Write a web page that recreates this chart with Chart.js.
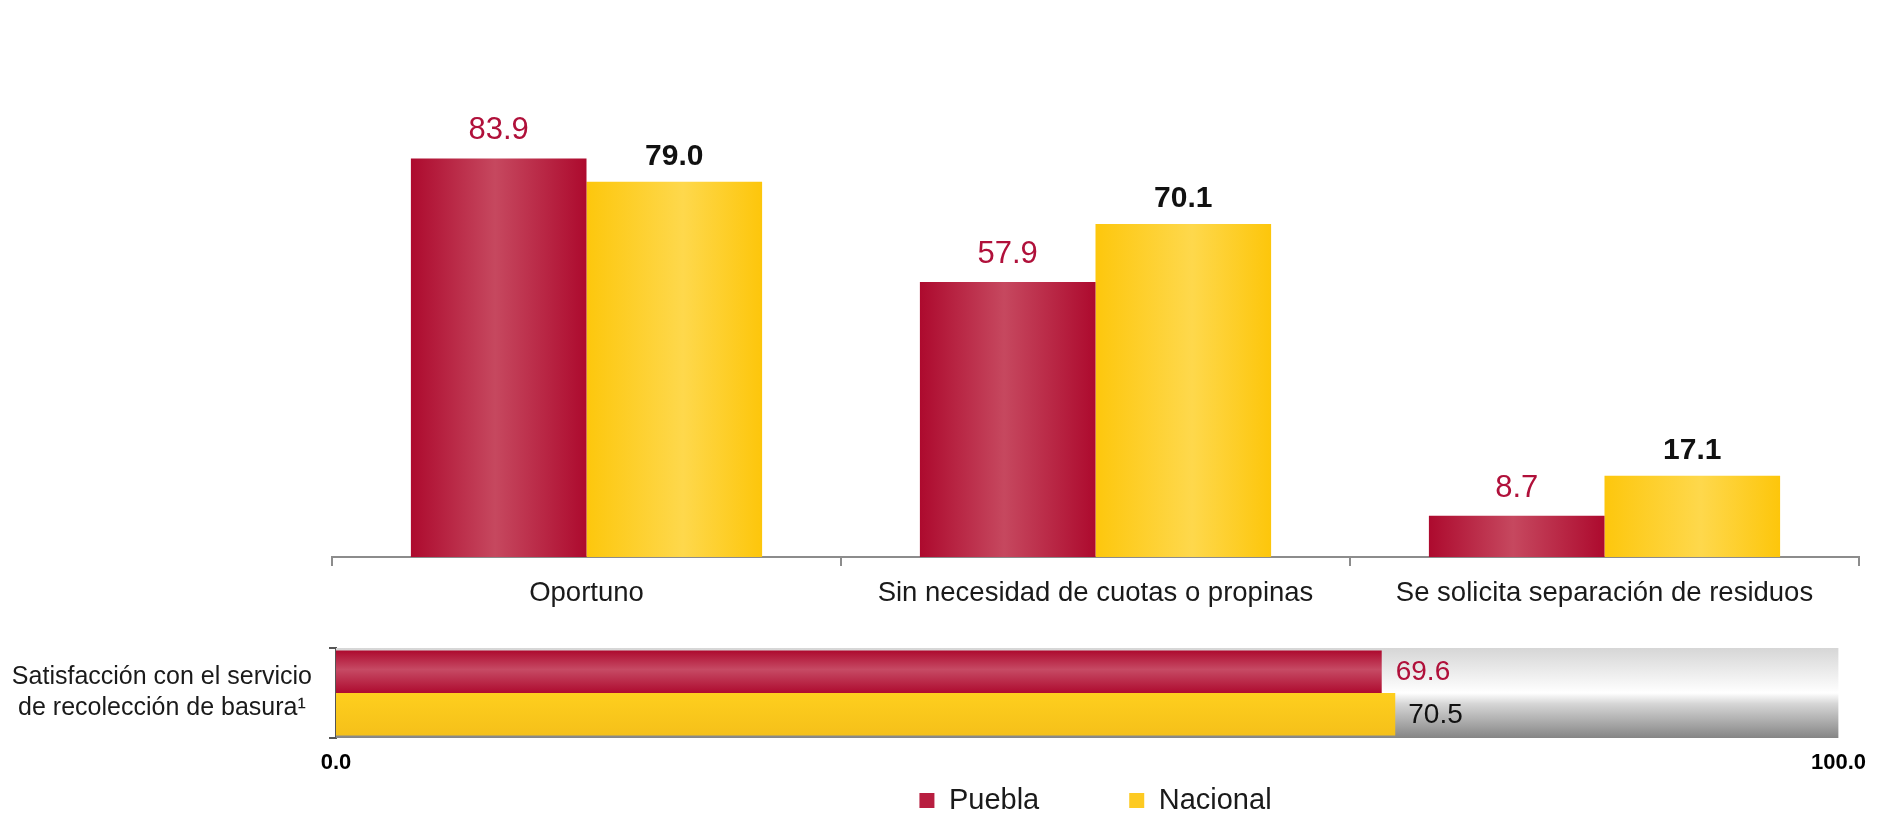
<!DOCTYPE html>
<html><head><meta charset="utf-8">
<script src="https://cdn.jsdelivr.net/npm/chart.js@4.4.0/dist/chart.umd.min.js"></script>
<style>
html,body{margin:0;padding:0;background:#fff;overflow:hidden;width:1878px;height:813px}
#c1{position:absolute;left:0;top:0}
#c2{position:absolute;left:0;top:600px}
</style></head><body>
<canvas id="c1" width="1878" height="825"></canvas>
<canvas id="c2" width="1878" height="200"></canvas>
<script>
// ---- data ----
const categorias = ['Oportuno', 'Sin necesidad de cuotas o propinas', 'Se solicita separación de residuos'];
const puebla = [83.9, 57.9, 8.7];
const nacional = [79.0, 70.1, 17.1];
const satisfaccionEtiqueta = [['Satisfacción con el servicio', 'de recolección de basura¹']];
const satisfaccionPuebla = [69.6];
const satisfaccionNacional = [70.5];
const escalaCompleta = [100];
const ticksSatisfaccion = [0, 100];
const series = ['Puebla', 'Nacional'];

Chart.defaults.font.family = "'Liberation Sans', Arial, sans-serif";

const gradPlugin = {
  id: 'gradientes',
  beforeDatasetsDraw(chart, args, opts) {
    const ctx = chart.ctx;
    const horiz = chart.options.indexAxis === 'y';
    chart.data.datasets.forEach((ds, di) => {
      const meta = chart.getDatasetMeta(di);
      const stops = opts.stops[di];
      if (!stops) return;
      meta.data.forEach(el => {
        let g;
        if (horiz) {
          g = ctx.createLinearGradient(0, el.y - el.height / 2, 0, el.y + el.height / 2);
        } else {
          g = ctx.createLinearGradient(el.x - el.width / 2, 0, el.x + el.width / 2, 0);
        }
        stops.forEach(s => g.addColorStop(s[0], s[1]));
        el.options = Object.assign({}, el.options, {backgroundColor: g});
      });
    });
  }
};

const labelPlugin = {
  id: 'etiquetas',
  afterDatasetsDraw(chart, args, opts) {
    const ctx = chart.ctx;
    const horiz = chart.options.indexAxis === 'y';
    ctx.save();
    opts.series.forEach(cfg => {
      const meta = chart.getDatasetMeta(cfg.index);
      const ds = chart.data.datasets[cfg.index];
      meta.data.forEach((el, i) => {
        const txt = ds.data[i].toFixed(1);
        ctx.font = (cfg.bold ? 'bold ' : '') + cfg.size + "px 'Liberation Sans', Arial, sans-serif";
        ctx.fillStyle = cfg.color;
        if (horiz) {
          ctx.textAlign = 'left';
          ctx.textBaseline = 'middle';
          ctx.fillText(txt, el.x + cfg.gap, el.y + 1);
        } else {
          ctx.textAlign = 'center';
          ctx.textBaseline = 'alphabetic';
          ctx.fillText(txt, el.x, el.y - cfg.gap);
        }
      });
    });
    ctx.restore();
  }
};

new Chart(document.getElementById('c1'), {
  type: 'bar',
  data: {
    labels: categorias,
    datasets: [
      {label: series[0], data: puebla, backgroundColor: '#b81e40', borderWidth: 0, categoryPercentage: 0.69, barPercentage: 1},
      {label: series[1], data: nacional, backgroundColor: '#fdca22', borderWidth: 0, categoryPercentage: 0.69, barPercentage: 1}
    ]
  },
  options: {
    responsive: false,
    animation: false,
    layout: {padding: {left: 332, right: 19, top: 82, bottom: 0}},
    scales: {
      x: {
        grid: {display: true, drawOnChartArea: false, offset: true, tickLength: 9, color: '#8c8c8c', lineWidth: 2},
        border: {color: '#8c8c8c', width: 2},
        ticks: {font: {size: 27.5}, color: '#1a1a1a', padding: 11},
        afterFit(s) { s.height = 139; }
      },
      y: {display: false, min: 0, max: 100}
    },
    plugins: {
      legend: {
        position: 'bottom', fullSize: false,
        labels: {boxWidth: 15, boxHeight: 15, padding: 90, font: {size: 29}, color: '#1a1a1a'}
      },
      tooltip: {enabled: false},
      gradientes: {stops: [
        [[0, '#ad0a2e'], [0.48, '#c6485f'], [1, '#ad0a2e']],
        [[0, '#fdc70d'], [0.55, '#fed84c'], [1, '#fdc60b']]
      ]},
      etiquetas: {series: [
        {index: 0, color: '#b0103a', size: 31, bold: false, gap: 19},
        {index: 1, color: '#111', size: 30, bold: true, gap: 17}
      ]}
    }
  },
  plugins: [gradPlugin, labelPlugin]
});

new Chart(document.getElementById('c2'), {
  type: 'bar',
  data: {
    labels: satisfaccionEtiqueta,
    datasets: [
      {label: series[0], data: satisfaccionPuebla, backgroundColor: '#b81e40', borderWidth: 0, categoryPercentage: 0.945, barPercentage: 1},
      {label: series[1], data: satisfaccionNacional, backgroundColor: '#fdca22', borderWidth: 0, categoryPercentage: 0.945, barPercentage: 1},
      {label: 'Total', data: escalaCompleta, backgroundColor: '#e0e0e0', borderWidth: 0, grouped: false, categoryPercentage: 1, barPercentage: 1}
    ]
  },
  options: {
    indexAxis: 'y',
    responsive: false,
    animation: false,
    layout: {padding: {left: 0, right: 31, top: 46, bottom: 0}},
    scales: {
      y: {
        grid: {offset: true, drawOnChartArea: false, tickLength: 7, color: '#555', lineWidth: 2},
        border: {color: '#555', width: 2},
        ticks: {crossAlign: 'center', padding: 17, font: {size: 25, lineHeight: 1.24}, color: '#1a1a1a'},
        afterFit(s) { s.width = 336; }
      },
      x: {
        min: 0, max: 100,
        grid: {display: false, drawTicks: false},
        border: {display: false},
        afterBuildTicks(s) { s.ticks = ticksSatisfaccion.map(v => ({value: v})); },
        ticks: {callback: v => Number(v).toFixed(1), font: {size: 22, weight: 'bold'}, color: '#000', padding: 12, maxRotation: 0, autoSkip: false},
        afterFit(s) { s.height = 62; }
      }
    },
    plugins: {
      legend: {display: false},
      tooltip: {enabled: false},
      gradientes: {stops: [
        [[0, '#ad0a2e'], [0.45, '#c64a64'], [1, '#ae0b2f']],
        [[0, '#fecf1e'], [1, '#f5c01a']],
        [[0, '#d6d6d6'], [0.5, '#ffffff'], [0.62, '#d6d6d6'], [1, '#858585']]
      ]},
      etiquetas: {series: [
        {index: 0, color: '#b0103a', size: 28, bold: false, gap: 14},
        {index: 1, color: '#111', size: 28, bold: false, gap: 13}
      ]}
    }
  },
  plugins: [gradPlugin, labelPlugin]
});
</script>
</body></html>
